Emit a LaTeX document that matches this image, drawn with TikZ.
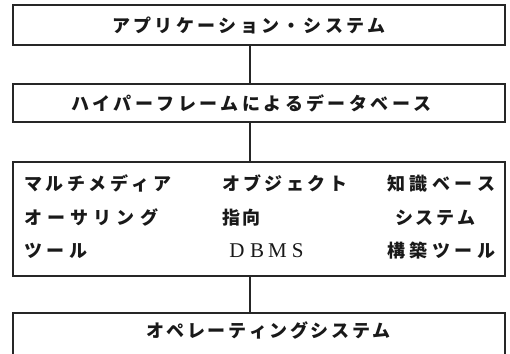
\documentclass[tikz,border=0pt]{standalone}
\usepackage{fontspec}
\newfontfamily\jp{Noto Sans CJK JP}
\newfontfamily\serifx{Liberation Serif}
\makeatletter
\newcommand\spc[2]{\def\spc@w{#1}\def\spc@p{l}\spc@a#2\relax}
\newcommand\spcc[2]{\def\spc@w{#1}\def\spc@p{c}\spc@a#2\relax}
\def\spc@a#1{\ifx\relax#1\else\makebox[\spc@w][\spc@p]{#1}\expandafter\spc@a\fi}
\makeatother
\tikzset{
  box/.style={draw=black!85, line width=1.3pt, rectangle, minimum width=492pt, inner sep=0pt},
  txt/.style={anchor=base west, inner sep=0pt, font=\jp\bfseries\fontsize{18}{19}\selectfont, text=black!90},
  lat/.style={anchor=base west, inner sep=0pt, font=\serifx\fontsize{21}{22}\selectfont, text=black!90},
  conn/.style={draw=black!85, line width=1.3pt}
}
\begin{document}
\begin{tikzpicture}[x=1pt,y=-1pt]
\useasboundingbox (0,0) rectangle (510,353);
\clip (0,0) rectangle (510,353);
\fill[white] (0,0) rectangle (510,353);
\coordinate (vx) at (250,0);
% boxes
\node[box, minimum height=40pt] (b1) at (259,25) {};
\node[box, minimum height=38pt] (b2) at (259,103) {};
\node[box, minimum height=114pt] (b3) at (259,219) {};
\node[box, minimum height=60pt] (b4) at (259,343) {};
% connectors
\draw[conn] (b1.south -| vx) -- (b2.north -| vx);
\draw[conn] (b2.south -| vx) -- (b3.north -| vx);
\draw[conn] (b3.south -| vx) -- (b4.north -| vx);
% texts
\node[txt] (t1) at (112,33) {\spc{21.3pt}{アプリケーション・システム}};
\node[txt] (t2) at (71,110) {\spc{21.4pt}{ハイパーフレームによるデータベース}};
\node[txt] (r11) at (24,190) {\spc{21.5pt}{マルチメディア}};
\node[txt] (r12) at (222,190) {\spc{21.4pt}{オブジェクト}};
\node[txt] (r13) at (387,190) {\spc{22.5pt}{知識ベース}};
\node[txt] (r21) at (24,224) {\spc{23.2pt}{オーサリング}};
\node[txt] (r22) at (222,224) {\spc{20.5pt}{指向}};
\node[txt] (r23) at (395,224) {\spc{20.7pt}{システム}};
\node[txt] (r31) at (24,257) {\spc{22.5pt}{ツール}};
\node[lat] (r32) at (226.5,257) {\spcc{20.3pt}{DBMS}};
\node[txt] (r33) at (387,257) {\spc{22.5pt}{構築ツール}};
\node[txt] (t4) at (146,337) {\spc{20.6pt}{オペレーティングシステム}};
\end{tikzpicture}
\end{document}
